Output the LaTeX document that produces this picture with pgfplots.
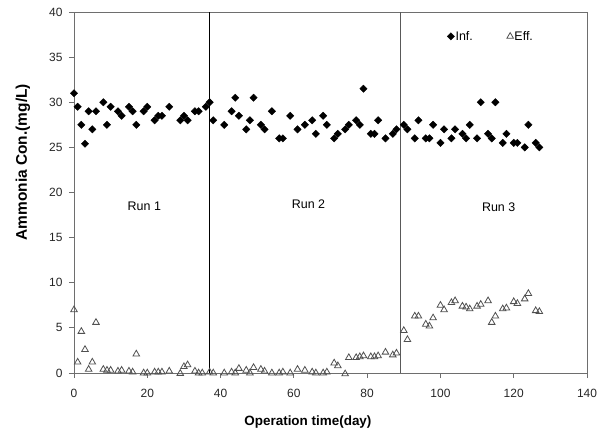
\documentclass[border=0pt]{standalone}
\usepackage{pgfplots}
\pgfplotsset{compat=1.18}
\usepackage{fontspec}
\setmainfont{Liberation Sans}

\definecolor{axgray}{RGB}{110,110,110}
\definecolor{trigray}{RGB}{80,80,80}

\pgfplotstableread{
day val
0 31
1 29.5
2 27.5
3 25.4
4 29
5 27
6 29
8 30
9 27.5
10 29.5
12 29
13 28.5
15 29.5
16 29
17 27.5
19 29
20 29.5
22 28
23 28.5
24 28.5
26 29.5
29 28
30 28.5
31 28
33 29
34 29
36 29.5
37 30
38 28
41 27.5
43 29
44 30.5
45 28.5
47 27
48 28
49 30.5
51 27.5
52 27
54 29
56 26
57 26
59 28.5
61 27
63 27.5
65 28
66 26.5
68 28.5
69 27.5
71 26
72 26.5
74 27
75 27.5
77 28
78 27.5
79 31.5
81 26.5
82 26.5
83 28
85 26
87 26.5
88 27
90 27.5
91 27
93 26
94 28
96 26
97 26
98 27.5
100 25.5
101 27
103 26
104 27
106 26.5
107 26
108 27.5
110 26
111 30
113 26.5
114 26
115 30
117 25.5
118 26.5
120 25.5
121 25.5
123 25
124 27.5
126 25.5
127 25
}\infdata

\pgfplotstableread{
day val
0 7
1 1.2
2 4.6
3 2.6
4 0.4
5 1.2
6 5.6
8 0.4
9 0.3
10 0.3
12 0.2
13 0.3
15 0.2
16 0.1
17 2.1
19 0
20 0
22 0.1
23 0.1
24 0.1
26 0.2
29 -0.05
30 0.7
31 0.9
33 0.2
34 0
35 0
37 0.1
38 0
41 0
43 0.1
44 0
45 0.5
47 0.3
48 0
49 0.6
51 0.4
52 0.2
54 0
56 0
57 0.1
59 0
61 0.4
63 0.3
65 0.1
66 0
68 0
69 0.1
71 1.1
72 0.8
74 -0.1
75 1.7
77 1.7
78 1.8
79 1.9
81 1.8
82 1.8
83 1.9
85 2.3
87 2.0
88 2.2
90 4.7
91 3.7
93 6.3
94 6.3
96 5.4
97 5.2
98 6.1
100 7.5
101 7.0
103 7.8
104 8.0
106 7.4
107 7.3
108 7.1
110 7.4
111 7.6
113 8.0
114 5.6
115 6.3
117 7.1
118 7.2
120 7.9
121 7.7
123 8.2
124 8.8
126 6.9
127 6.8
}\effdata

\begin{document}
\begin{tikzpicture}
\begin{axis}[
    scale only axis,
    width=513bp, height=361bp,
    xmin=0, xmax=140,
    ymin=0, ymax=40,
    xtick={0,20,...,140},
    ytick={0,5,...,40},
    tick pos=left,
    tick align=outside,
    major tick length=5bp,
    axis line style={axgray, line width=0.9bp},
    every tick/.style={axgray, line width=0.9bp},
    clip=false,
    /pgf/number format/assume math mode=true,
    ticklabel style={font=\fontsize{12}{14}\selectfont, text=black!85},
    xticklabel style={yshift=-8bp},
    yticklabel style={xshift=-3bp},
    every axis x label/.style={at={(rel axis cs:0.456,0)}, anchor=base, yshift=-52bp},
    every axis y label/.style={at={([xshift=-47bp]rel axis cs:0,0.584)}, rotate=90, anchor=base},
    xlabel={\fontsize{13.5}{16}\selectfont\bfseries Operation time(day)},
    ylabel={\fontsize{15.5}{18}\selectfont\bfseries Ammonia Con.(mg/L)},
    legend columns=2,
    legend style={draw=none, fill=none, at={(axis cs:101.8,37.3)}, anchor=west,
        font=\fontsize{12.5}{14}\selectfont, inner sep=0pt,
        /tikz/every even column/.append style={column sep=33bp},
        nodes={inner sep=1bp}},
    legend image code/.code={\draw[#1] plot coordinates {(0bp,0bp)};},
]
\addplot[only marks, mark=square*, mark size=2.6bp, mark options={rotate=45, fill=black, draw=black}]
    table[x=day, y=val] {\infdata};
\addlegendentry{Inf.}
\addplot[only marks, mark=triangle, mark size=3.8bp, mark options={draw=trigray, fill=white, line width=0.8bp}]
    table[x=day, y=val] {\effdata};
\addlegendentry{Eff.}
\addplot[forget plot, black, line width=0.8bp] coordinates {(37,0) (37,40)};
\addplot[forget plot, black!65, line width=0.8bp] coordinates {(89,0) (89,40)};
\node[font=\fontsize{12.5}{14}\selectfont] at (axis cs:19.2,18.5) {Run 1};
\node[font=\fontsize{12.5}{14}\selectfont] at (axis cs:64,18.7) {Run 2};
\node[font=\fontsize{12.5}{14}\selectfont] at (axis cs:115.9,18.4) {Run 3};
\end{axis}
\path ([xshift=-74bp,yshift=-60bp]current axis.south west) rectangle ([xshift=22bp,yshift=12bp]current axis.north east);
\end{tikzpicture}
\end{document}
